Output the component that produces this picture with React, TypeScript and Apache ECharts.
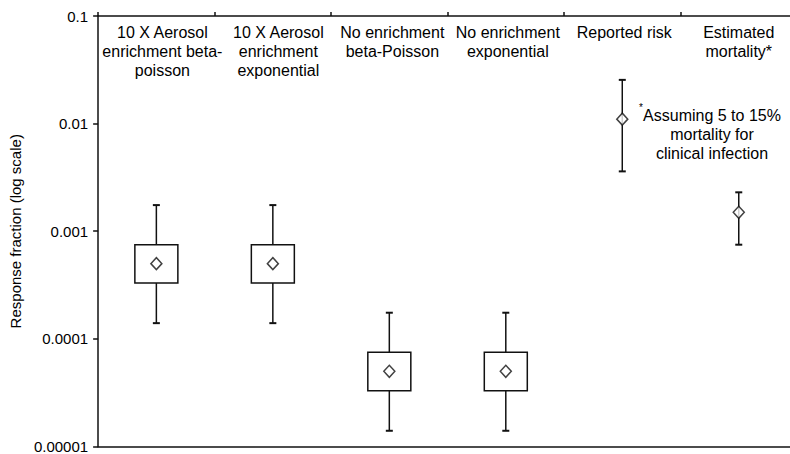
import React, { useEffect, useRef } from "react";
import * as echarts from "echarts";

const categories = [
  "10 X Aerosol\nenrichment beta-\npoisson",
  "10 X Aerosol\nenrichment\nexponential",
  "No enrichment\nbeta-Poisson",
  "No enrichment\nexponential",
  "Reported risk",
  "Estimated\nmortality*",
];

// Box plots: [categoryIndex, low whisker, Q1, Q3, high whisker]
const boxLow = [0.00014, 0.00014, 0.000014, 0.000014];
const boxQ1 = [0.00033, 0.00033, 0.000033, 0.000033];
const boxQ3 = [0.00075, 0.00075, 0.000075, 0.000075];
const boxHigh = [0.00175, 0.00175, 0.000175, 0.000175];

// Error bars for categories 4 and 5
const barCats = [4, 5];
const barLow = [0.0036, 0.00075];
const barHigh = [0.0255, 0.0023];

// Central points (diamonds) for all six categories
const centers = [0.0005, 0.0005, 0.00005, 0.00005, 0.011, 0.0015];

const yTickLabels = ["0.00001", "0.0001", "0.001", "0.01", "0.1"];
const yAxisName = "Response fraction (log scale)";
const footnote = "Assuming 5 to 15%\nmortality for\nclinical infection";

const FONT = "'Liberation Sans', Arial, Helvetica, sans-serif";
const INK = "#111";
// small horizontal nudges of the category labels (left padding, px)
const labelPad = [12, 11, 6, 4, 4, 0];

export default function App() {
  const ref = useRef<HTMLDivElement>(null);

  useEffect(() => {
    if (!ref.current) return;
    const chart = echarts.init(ref.current, undefined, { renderer: "svg" });

    const boxData = boxLow.map((v, i) => [i, v, boxQ1[i], boxQ3[i], boxHigh[i]]);
    const barData = barCats.map((c, i) => [c, barLow[i], barHigh[i]]);
    const centerData = centers.map((v, i) => [i, v]);

    const lineStyle = { stroke: INK, lineWidth: 1.5 };
    const capStyle = { stroke: INK, lineWidth: 2 };

    const rich: Record<string, any> = {};
    labelPad.forEach((p, i) => {
      rich["p" + i] = {
        fontSize: 16,
        lineHeight: 19,
        color: "#000",
        fontFamily: FONT,
        padding: [0, 0, 0, p],
      };
    });

    chart.setOption({
      animation: false,
      backgroundColor: "#fff",
      textStyle: { fontFamily: FONT },
      grid: { left: 97, right: 0, top: 16, bottom: 6, containLabel: false },
      xAxis: [
        {
          type: "category",
          data: categories,
          position: "top",
          boundaryGap: true,
          axisLine: { show: true, lineStyle: { color: INK, width: 1.5 } },
          axisTick: { show: true, inside: false, length: 4, lineStyle: { color: INK, width: 1.5 } },
          axisLabel: {
            inside: true,
            margin: 7,
            interval: 0,
            color: "#000",
            fontSize: 16,
            lineHeight: 19,
            fontFamily: FONT,
            align: "center",
            verticalAlign: "top",
            formatter: (value: string, index: number) => `{p${index}|${value}}`,
            rich,
          },
          splitLine: { show: false },
        },
        {
          type: "category",
          data: categories,
          position: "bottom",
          axisLine: { show: true, lineStyle: { color: INK, width: 1.5 } },
          axisTick: { show: false },
          axisLabel: { show: false },
          splitLine: { show: false },
        },
      ],
      yAxis: {
        type: "log",
        logBase: 10,
        min: 0.00001,
        max: 0.1,
        splitNumber: 4,
        name: yAxisName,
        nameLocation: "middle",
        nameRotate: 90,
        nameGap: 72,
        nameTextStyle: { fontSize: 15, color: "#000", fontFamily: FONT },
        axisLine: { show: true, lineStyle: { color: INK, width: 1.5 } },
        axisTick: { show: true, length: 5, lineStyle: { color: INK, width: 1.5 } },
        axisLabel: {
          margin: 10,
          fontSize: 15,
          color: "#000",
          fontFamily: FONT,
          formatter: (v: number) => {
            const idx = Math.round(Math.log10(v)) + 5;
            return yTickLabels[idx] ?? "";
          },
        },
        splitLine: { show: false },
        minorTick: { show: false },
      },
      series: [
        {
          type: "custom",
          xAxisIndex: 0,
          data: boxData,
          encode: { x: 0, y: [1, 2, 3, 4] },
          z: 2,
          renderItem: (_params: any, api: any) => {
            const c = api.value(0);
            const pLow = api.coord([c, api.value(1)]);
            const pQ1 = api.coord([c, api.value(2)]);
            const pQ3 = api.coord([c, api.value(3)]);
            const pHigh = api.coord([c, api.value(4)]);
            const cx = pLow[0];
            const hw = 21.5;
            const cap = 3.5;
            return {
              type: "group",
              children: [
                { type: "line", shape: { x1: cx, y1: pHigh[1], x2: cx, y2: pQ3[1] }, style: lineStyle },
                { type: "line", shape: { x1: cx, y1: pQ1[1], x2: cx, y2: pLow[1] }, style: lineStyle },
                { type: "line", shape: { x1: cx - cap, y1: pHigh[1], x2: cx + cap, y2: pHigh[1] }, style: capStyle },
                { type: "line", shape: { x1: cx - cap, y1: pLow[1], x2: cx + cap, y2: pLow[1] }, style: capStyle },
                {
                  type: "rect",
                  shape: { x: cx - hw, y: pQ3[1], width: hw * 2, height: pQ1[1] - pQ3[1] },
                  style: { stroke: INK, lineWidth: 1.5, fill: "#fff" },
                },
              ],
            };
          },
        },
        {
          type: "custom",
          xAxisIndex: 0,
          data: barData,
          encode: { x: 0, y: [1, 2] },
          z: 2,
          renderItem: (_params: any, api: any) => {
            const c = api.value(0);
            const pLow = api.coord([c, api.value(1)]);
            const pHigh = api.coord([c, api.value(2)]);
            const cx = pLow[0];
            const cap = 3.5;
            return {
              type: "group",
              children: [
                { type: "line", shape: { x1: cx, y1: pHigh[1], x2: cx, y2: pLow[1] }, style: lineStyle },
                { type: "line", shape: { x1: cx - cap, y1: pHigh[1], x2: cx + cap, y2: pHigh[1] }, style: capStyle },
                { type: "line", shape: { x1: cx - cap, y1: pLow[1], x2: cx + cap, y2: pLow[1] }, style: capStyle },
              ],
            };
          },
        },
        {
          type: "scatter",
          xAxisIndex: 0,
          data: centerData,
          symbol: "diamond",
          symbolSize: [11, 12],
          z: 5,
          itemStyle: { color: "#fff", borderColor: INK, borderWidth: 1.5 },
        },
      ],
      graphic: [
        {
          type: "text",
          x: 712,
          y: 106,
          z: 10,
          style: {
            text: footnote,
            fill: "#000",
            font: `16px ${FONT}`,
            textAlign: "center",
            textVerticalAlign: "top",
            lineHeight: 19,
          },
        },
        {
          type: "text",
          x: 639,
          y: 102,
          z: 10,
          style: {
            text: "*",
            fill: "#000",
            font: `10px ${FONT}`,
            textAlign: "left",
            textVerticalAlign: "top",
          },
        },
      ],
    });

    return () => chart.dispose();
  }, []);

  return (
    <div style={{ position: "fixed", left: 0, top: 0, width: 790, height: 454, overflow: "hidden", background: "#fff" }}>
      <div ref={ref} style={{ position: "absolute", left: 0, top: 0, width: 797, height: 454 }} />
    </div>
  );
}
